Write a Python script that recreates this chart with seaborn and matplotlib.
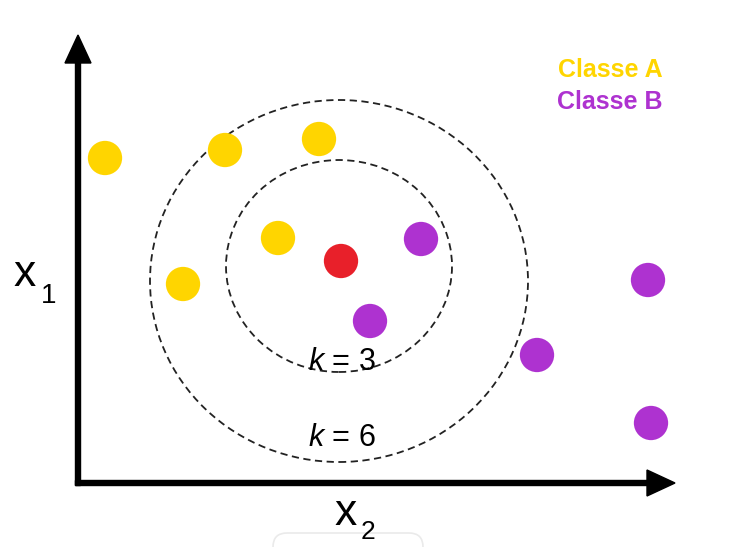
#importing libraries and modules
import pandas as pd
import seaborn as sns
import matplotlib.pyplot as plt
from matplotlib.patches import Ellipse, FancyBboxPatch

# points (x2 horizontal, x1 vertical, origin at the axis corner)
classe_a_x2 = [27, 147, 241, 200, 105]
classe_a_x1 = [325, 333, 344, 245, 199]
classe_b_x2 = [343, 292, 459, 570, 573]
classe_b_x1 = [244, 162, 128, 203, 60]
query_x2 = [263]
query_x1 = [222]

# neighbourhood circles: centre x2, centre x1, width, height
k_values = [3, 6]
circle_cx = [261, 261]
circle_cy = [217, 202]
circle_w = [226, 378]
circle_h = [212, 362]

yellow = "#FFD500"
purple = "#AE32D0"
red = "#E8202A"

sns.set_theme(style="white")
plt.rcParams["font.family"] = ["Liberation Sans", "DejaVu Sans"]
plt.rcParams["text.color"] = "black"
plt.rcParams["mathtext.fontset"] = "custom"
plt.rcParams["mathtext.rm"] = "Liberation Sans"
plt.rcParams["mathtext.it"] = "Liberation Sans:italic"

fig = plt.figure(figsize=(7.42, 5.47), dpi=100)
ax = fig.add_axes([0, 0, 1, 1])
ax.set_xlim(-78, 664)
ax.set_ylim(-64, 483)
ax.axis("off")

# dashed k circles
for cx, cy, w, h in zip(circle_cx, circle_cy, circle_w, circle_h):
    ax.add_patch(Ellipse((cx, cy), w, h, fill=False, ls=(0, (4, 2.5)),
                         lw=1.3, ec="#222222", zorder=1))

df = pd.concat([
    pd.DataFrame({"x2": classe_a_x2, "x1": classe_a_x1, "classe": "A"}),
    pd.DataFrame({"x2": classe_b_x2, "x1": classe_b_x1, "classe": "B"}),
    pd.DataFrame({"x2": query_x2, "x1": query_x1, "classe": "?"}),
])
sns.scatterplot(data=df, x="x2", y="x1", hue="classe",
                palette={"A": yellow, "B": purple, "?": red},
                s=610, linewidth=0, legend=False, ax=ax, zorder=3)
ax.set_xlabel("")
ax.set_ylabel("")

# axes arrows
ax.arrow(0, -2.5, 0, 450.5, width=5, head_width=26, head_length=28,
         length_includes_head=True, color="black", zorder=2)
ax.arrow(-2.5, 0, 599.5, 0, width=5, head_width=26, head_length=28,
         length_includes_head=True, color="black", zorder=2)

# axis names with dropped subscripts
ax.text(-53, 197, "x", fontsize=32, ha="center", va="baseline")
ax.text(-37, 180, "1", fontsize=20, ha="left", va="baseline")
ax.text(268, -42, "x", fontsize=32, ha="center", va="baseline")
ax.text(283, -56, "2", fontsize=19, ha="left", va="baseline")

# k labels
for k, ty in zip(k_values, [121, 45]):
    ax.text(264, ty, r"$k$ = " + str(k), fontsize=22, ha="center", va="center")

ax.text(532, 413, "Classe A", fontsize=18, fontweight="bold", color=yellow,
        ha="center", va="center")
ax.text(532, 381, "Classe B", fontsize=18, fontweight="bold", color=purple,
        ha="center", va="center")

# faint box peeking in at the bottom edge
ax.add_patch(FancyBboxPatch((195, -90), 150, 40, boxstyle="round,pad=0,rounding_size=14",
                            fill=False, ec="#EAEAEA", lw=1.2, zorder=0))

fig.savefig("out.png", dpi=100)
